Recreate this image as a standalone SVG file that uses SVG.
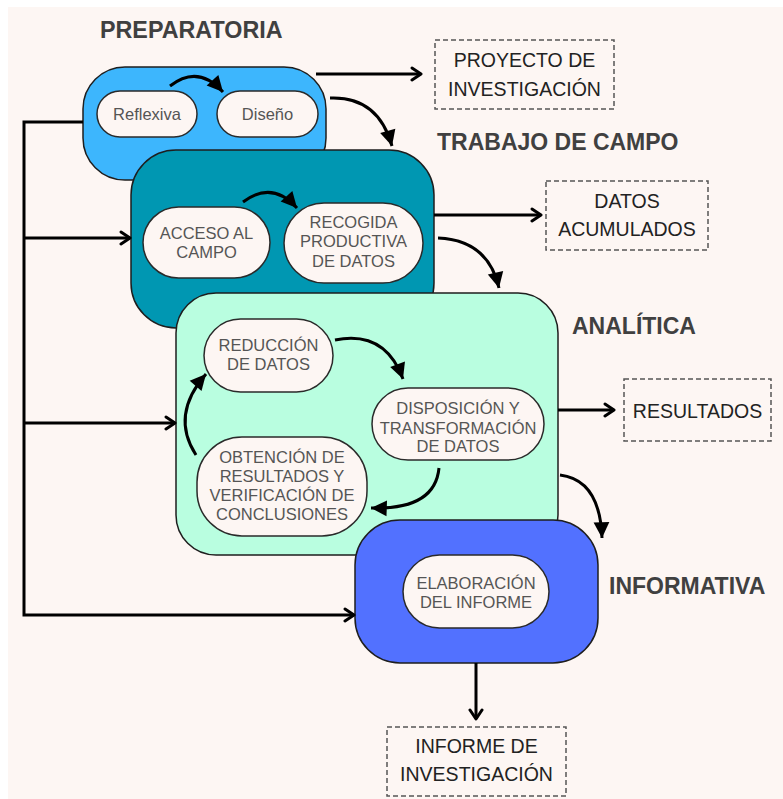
<svg xmlns="http://www.w3.org/2000/svg" width="783" height="799" viewBox="0 0 783 799">
<style>
.bg{fill:#fdf6f3}
.box{stroke:#1e1e1e;stroke-width:1.5}
.pill{fill:#fdf6f3;stroke:#2a2a2a;stroke-width:1.5}
.out{fill:#fdf6f3;stroke:#555;stroke-width:1.5;stroke-dasharray:5 3}
.h{font-family:"Liberation Sans",Arial,sans-serif;font-weight:bold;font-size:23px;fill:#404040}
.t{font-family:"Liberation Sans",Arial,sans-serif;font-size:16.5px;fill:#555;text-anchor:middle}
.o{font-family:"Liberation Sans",Arial,sans-serif;font-size:19.5px;fill:#222;text-anchor:middle}
.c{fill:none;stroke:#000;stroke-width:3}
</style>
<defs>
<marker id="tri" markerUnits="userSpaceOnUse" markerWidth="18" markerHeight="18" viewBox="0 0 16 16" refX="15" refY="8" orient="auto">
<path d="M1,1 L15,8 L1,15 Z" fill="#000"/>
</marker>
<marker id="chev" markerUnits="userSpaceOnUse" markerWidth="14" markerHeight="16" viewBox="0 0 14 16" refX="12" refY="8" orient="auto">
<path d="M3,2 L12,8 L3,14" fill="none" stroke="#000" stroke-width="3" stroke-linecap="round" stroke-linejoin="round"/>
</marker>
</defs>
<rect x="8" y="7" width="775" height="792" class="bg"/>

<g id="prep">
<rect x="83" y="67" width="243" height="113" rx="42" fill="#3db6fd" class="box"/>
<rect x="97" y="91" width="100" height="46" rx="23" class="pill"/>
<text x="147" y="120" class="t" style="font-size:16.5px">Reflexiva</text>
<rect x="217" y="91" width="101" height="46" rx="23" class="pill"/>
<text x="267.5" y="120" class="t" style="font-size:16.5px">Diseño</text>
</g>

<g id="trabajo">
<rect x="131" y="150" width="303" height="178" rx="45" fill="#0097b2" class="box"/>
<rect x="143" y="207" width="127" height="71" rx="35.5" class="pill"/>
<text x="206.5" y="239" class="t">ACCESO AL</text>
<text x="206.5" y="258" class="t">CAMPO</text>
<rect x="284" y="203" width="139" height="80" rx="40" class="pill"/>
<text x="353.5" y="228" class="t">RECOGIDA</text>
<text x="353.5" y="247" class="t">PRODUCTIVA</text>
<text x="353.5" y="267" class="t">DE DATOS</text>
</g>

<g id="analitica">
<rect x="176" y="293" width="382" height="262" rx="40" fill="#b9fee0" class="box"/>
<rect x="204" y="319" width="129" height="73" rx="36.5" class="pill"/>
<text x="268.5" y="351" class="t">REDUCCIÓN</text>
<text x="268.5" y="370" class="t">DE DATOS</text>
<rect x="372" y="388" width="172" height="72" rx="36" class="pill"/>
<text x="458" y="413.5" class="t">DISPOSICIÓN Y</text>
<text x="458" y="433.5" class="t">TRANSFORMACIÓN</text>
<text x="458" y="452" class="t">DE DATOS</text>
<rect x="197" y="437" width="170" height="99" rx="45" class="pill"/>
<text x="282" y="462.5" class="t">OBTENCIÓN DE</text>
<text x="282" y="482" class="t">RESULTADOS Y</text>
<text x="282" y="501" class="t">VERIFICACIÓN DE</text>
<text x="282" y="520" class="t">CONCLUSIONES</text>
</g>

<g id="informativa">
<rect x="355" y="520" width="243" height="143" rx="45" fill="#5271ff" class="box"/>
<rect x="403" y="555" width="146" height="73" rx="36.5" class="pill"/>
<text x="476" y="589" class="t">ELABORACIÓN</text>
<text x="476" y="608" class="t">DEL INFORME</text>
</g>

<g id="titles">
<text x="100" y="38" class="h" style="font-size:23.3px">PREPARATORIA</text>
<text x="437" y="150" class="h">TRABAJO DE CAMPO</text>
<text x="572" y="334" class="h">ANALÍTICA</text>
<text x="609" y="594" class="h">INFORMATIVA</text>
</g>

<g id="proyecto">
<rect x="435" y="40" width="179" height="69" class="out"/>
<text x="524.5" y="67" class="o">PROYECTO DE</text>
<text x="524.5" y="96" class="o">INVESTIGACIÓN</text>
</g>
<g id="datos">
<rect x="546" y="181" width="162" height="69" class="out"/>
<text x="627" y="208" class="o">DATOS</text>
<text x="627" y="236" class="o">ACUMULADOS</text>
</g>
<g id="resultados">
<rect x="624" y="379" width="147" height="62" class="out"/>
<text x="697.5" y="418" class="o">RESULTADOS</text>
</g>
<g id="informe">
<rect x="387" y="727" width="179" height="69" class="out"/>
<text x="476.5" y="753" class="o">INFORME DE</text>
<text x="476.5" y="781" class="o">INVESTIGACIÓN</text>
</g>

<g id="connectors">
<path d="M316,74 H421" class="c" marker-end="url(#chev)"/>
<path d="M434,215 H541" class="c" marker-end="url(#chev)"/>
<path d="M558,410 H614" class="c" marker-end="url(#chev)"/>
<path d="M476,663 V719" class="c" marker-end="url(#chev)"/>
<path d="M83,122 H24 V615 H354" class="c" marker-end="url(#chev)"/>
<path d="M24,238 H130" class="c" marker-end="url(#chev)"/>
<path d="M24,423 H175" class="c" marker-end="url(#chev)"/>

<path d="M170,86 Q198,64 223,92" class="c" marker-end="url(#tri)"/>
<path d="M330,98 Q378,96 392,146" class="c" marker-end="url(#tri)"/>
<path d="M243,202 Q272,180 297,208" class="c" marker-end="url(#tri)"/>
<path d="M438,238 Q488,240 499,288" class="c" marker-end="url(#tri)"/>
<path d="M335,340 Q385,330 403,379" class="c" marker-end="url(#tri)"/>
<path d="M439,468 Q435,510 371,508" class="c" marker-end="url(#tri)"/>
<path d="M196,455 Q170,415 206,374" class="c" marker-end="url(#tri)"/>
<path d="M560,475 Q600,480 602,538" class="c" marker-end="url(#tri)"/>
</g>
</svg>
